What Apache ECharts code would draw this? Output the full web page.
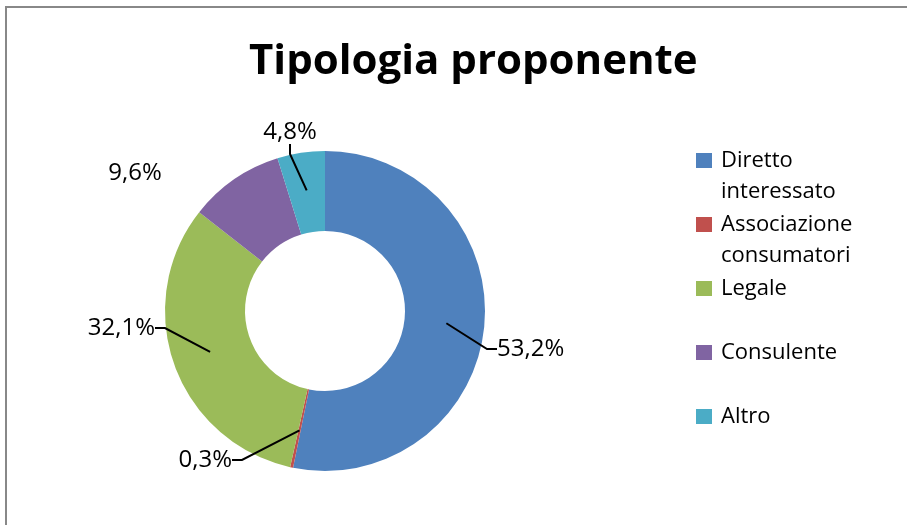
<!DOCTYPE html>
<html>
<head>
<meta charset="utf-8">
<script src="https://cdn.jsdelivr.net/npm/echarts@6/dist/echarts.min.js"></script>
<style>
html,body{margin:0;padding:0;background:#fff;}
#chart{width:907px;height:525px;}
</style>
</head>
<body>
<div id="chart"></div>
<script>
// ---- data ----
var categories = ['Diretto interessato', 'Associazione consumatori', 'Legale', 'Consulente', 'Altro'];
var values = [53.2, 0.3, 32.1, 9.6, 4.8];
var colors = ['#4F81BD', '#C0504D', '#9BBB59', '#8064A2', '#4BACC6'];
var titleText = 'Tipologia proponente';

// ---- label placement (layout, not data) ----
var labelPlace = [
  {x: 497, y: 349, align: 'left'},
  {x: 232, y: 460, align: 'right'},
  {x: 155, y: 328, align: 'right'},
  {x: 135, y: 173, align: 'center'},
  {x: 290, y: 132, align: 'center'}
];
var hideLine = [false, false, false, true, false];

var chart = echarts.init(document.getElementById('chart'), null, {renderer: 'canvas'});

var donutData = categories.map(function (c, i) {
  return {name: c, value: values[i], itemStyle: {color: colors[i]}};
});
var labelData = categories.map(function (c, i) {
  return {name: c, value: values[i], labelLine: {show: !hideLine[i]}};
});

var legendData = categories.map(function (c, i) {
  return {name: c, itemStyle: {color: colors[i]}};
});

var option = {
  backgroundColor: '#fff',
  animation: false,
  title: {
    text: titleText,
    left: 249,
    top: 41,
    padding: 0,
    textStyle: {fontFamily: 'Open Sans', fontWeight: 'bold', fontSize: 42, color: '#000'}
  },
  legend: {
    orient: 'vertical',
    left: 696,
    top: 114,
    padding: 0,
    itemGap: -29,
    icon: 'rect',
    itemWidth: 16,
    itemHeight: 15,
    selectedMode: false,
    data: legendData,
    formatter: function (name) {
      var parts = name.split(' ');
      return parts.length > 1
        ? ' \n' + parts[0] + '\n' + parts.slice(1).join(' ')
        : ' \n' + name + '\n ';
    },
    textStyle: {
      fontFamily: 'Open Sans', fontSize: 22, color: '#000',
      lineHeight: 31, padding: [0, 0, 0, 4]
    }
  },
  graphic: [{
    type: 'rect',
    shape: {x: 6, y: 7, width: 1200, height: 1200},
    style: {fill: 'none', stroke: '#888', lineWidth: 2},
    silent: true,
    z: 100
  }],
  series: [
    {
      type: 'pie',
      center: [325, 311],
      radius: [80, 160],
      startAngle: 90,
      clockwise: true,
      avoidLabelOverlap: false,
      label: {show: false},
      labelLine: {show: false},
      emphasis: {disabled: true},
      silent: true,
      data: donutData
    },
    {
      type: 'pie',
      center: [325, 311],
      radius: [0, 122],
      startAngle: 90,
      clockwise: true,
      avoidLabelOverlap: false,
      z: 3,
      itemStyle: {color: 'rgba(0,0,0,0)'},
      emphasis: {disabled: true},
      silent: true,
      label: {
        show: true,
        color: '#000',
        fontFamily: 'Open Sans',
        fontSize: 24,
        formatter: function (p) { return p.value.toFixed(1).replace('.', ',') + '%'; }
      },
      labelLine: {
        show: true,
        length: 30,
        length2: 10,
        lineStyle: {color: '#000', width: 2}
      },
      labelLayout: function (p) {
        var lp = labelPlace[p.dataIndex];
        return {x: lp.x, y: lp.y, align: lp.align, verticalAlign: 'middle'};
      },
      data: labelData
    }
  ]
};
chart.setOption(option);
</script>
</body>
</html>
